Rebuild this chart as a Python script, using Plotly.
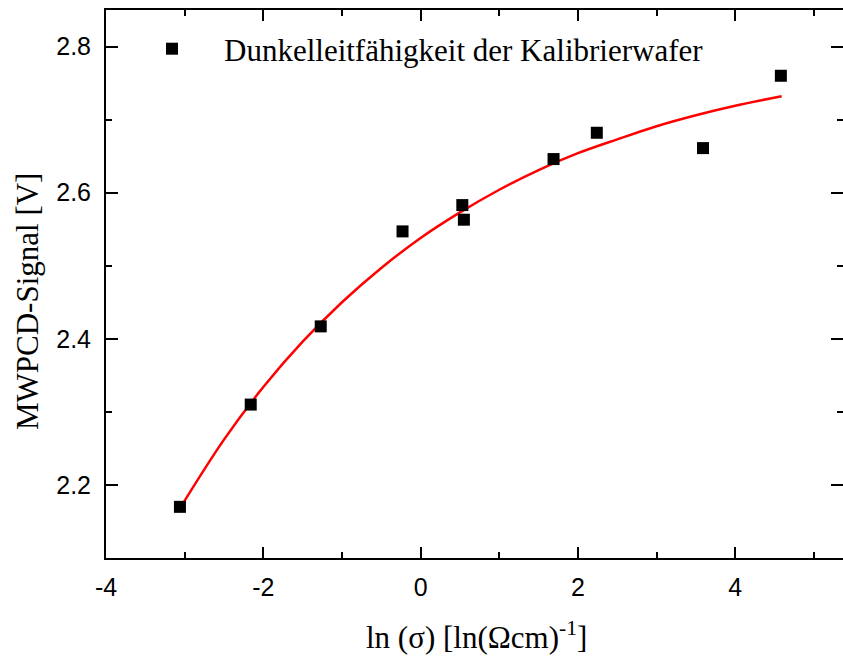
import plotly.graph_objects as go

# measured data points
ln_sigma = [-3.06, -2.16, -1.27, -0.23, 0.53, 0.55, 1.69, 2.24, 3.59, 4.58]
signal = [2.170, 2.310, 2.417, 2.547, 2.583, 2.563, 2.646, 2.682, 2.661, 2.760]

# fit curve
fit_x = [-3.06, -2.5, -2.0, -1.5, -1.0, -0.5, 0.0, 0.5, 1.0, 1.5, 2.0, 2.5, 3.0, 3.5, 4.0, 4.59]
fit_y = [2.168, 2.262, 2.334, 2.396, 2.450, 2.497, 2.538, 2.573, 2.604, 2.631, 2.654,
         2.673, 2.691, 2.706, 2.719, 2.732]

x_ticks = [-4, -2, 0, 2, 4]
x_tick_text = ["-4", "-2", "0", "2", "4"]
y_ticks = [2.2, 2.4, 2.6, 2.8]
y_tick_text = ["2.2", "2.4", "2.6", "2.8"]

legend_label = "Dunkelleitfähigkeit der Kalibrierwafer"
x_title = "ln (σ) [ln(Ωcm)<sup>-1</sup>]"
y_title = "MWPCD-Signal [V]"

serif = "Liberation Serif, Times New Roman, serif"

fig = go.Figure()
fig.add_trace(go.Scatter(
    x=fit_x, y=fit_y, mode="lines", line=dict(color="#ff0000", width=2.5, shape="spline", smoothing=1.0),
    showlegend=False, hoverinfo="skip"))
fig.add_trace(go.Scatter(
    x=ln_sigma, y=signal, mode="markers", name=legend_label,
    marker=dict(symbol="square", size=12, color="black", line=dict(width=0))))

axis_common = dict(
    showgrid=False, zeroline=False, showline=True, linecolor="black", linewidth=2,
    mirror="ticks", ticks="inside", tickwidth=2, tickcolor="black", automargin=False,
    tickfont=dict(family="Liberation Sans, Arial", size=25, color="black"),
)

fig.update_xaxes(
    range=[-4, 5.37], tickvals=x_ticks, ticktext=x_tick_text, ticklen=11,
    minor=dict(dtick=1, tick0=-5, ticks="inside", ticklen=6, tickwidth=2, tickcolor="black"),
    ticklabelstandoff=6, **axis_common)
fig.update_yaxes(
    range=[2.1, 2.85], tickvals=y_ticks, ticktext=y_tick_text, ticklen=12,
    minor=dict(dtick=0.1, tick0=2.1, ticks="inside", ticklen=6, tickwidth=2, tickcolor="black"),
    ticklabelstandoff=8, **axis_common)

fig.update_layout(
    width=843, height=657,
    margin=dict(l=106, r=0, t=10, b=99, autoexpand=False),
    paper_bgcolor="white", plot_bgcolor="white",
    font=dict(family=serif, color="black"),
    legend=dict(x=0.019, y=0.978, xanchor="left", yanchor="top", bgcolor="rgba(0,0,0,0)",
                font=dict(family=serif, size=31, color="black"),
                itemwidth=94),
    annotations=[
        dict(text=x_title, xref="paper", yref="paper", x=0.503, y=-0.141, yanchor="middle",
             showarrow=False, font=dict(family=serif, size=31)),
        dict(text=y_title, xref="paper", yref="paper", x=-0.1065, xanchor="center",
             y=0.468, yanchor="middle", textangle=-90, showarrow=False,
             font=dict(family=serif, size=31)),
    ],
)

fig.write_html("out.html")
